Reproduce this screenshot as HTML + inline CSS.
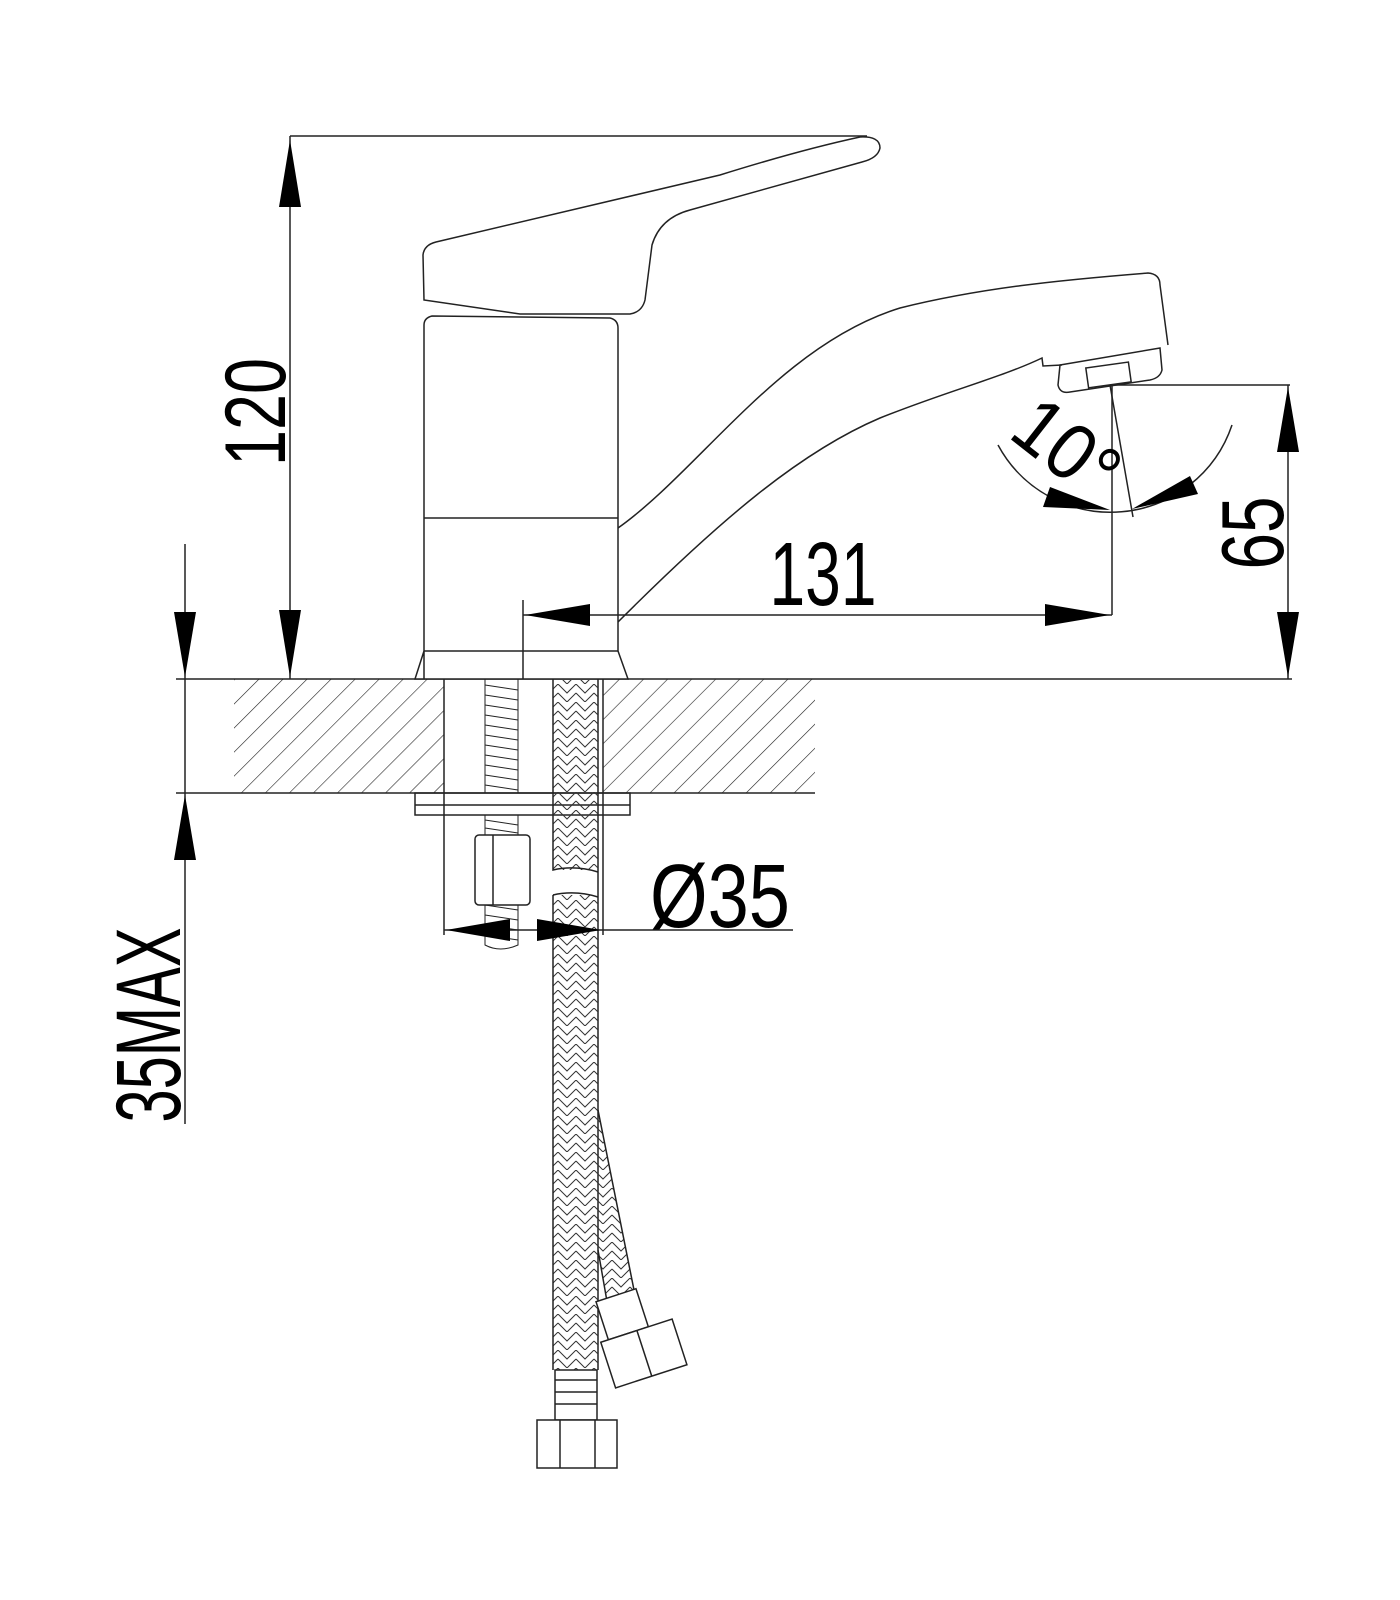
<!DOCTYPE html>
<html><head><meta charset="utf-8"><style>html,body{margin:0;padding:0;background:#fff}svg{display:block}</style></head>
<body>
<svg width="1400" height="1600" viewBox="0 0 1400 1600" xmlns="http://www.w3.org/2000/svg">
<defs>
<pattern id="hatch" patternUnits="userSpaceOnUse" width="17" height="17" patternTransform="rotate(45)">
<line x1="0" y1="0" x2="0" y2="17" stroke="#222" stroke-width="1.2"/>
</pattern>
<pattern id="braid" patternUnits="userSpaceOnUse" width="18" height="18">
<path d="M0,0 L9,9 L18,0 M0,9 L9,18 L18,9" fill="none" stroke="#333" stroke-width="1"/>
</pattern>
</defs>
<g fill="none" stroke="#222" stroke-width="1.5">
<rect x="234" y="679" width="210" height="114" fill="url(#hatch)" stroke="none"/>
<rect x="603" y="679" width="212" height="114" fill="url(#hatch)" stroke="none"/>
<line x1="176" y1="679" x2="1292" y2="679"/>
<line x1="176" y1="793" x2="815" y2="793"/>
<line x1="444" y1="679" x2="444" y2="935"/>
<line x1="603" y1="679" x2="603" y2="935"/>
<line x1="598" y1="679" x2="598" y2="1370"/>
<rect x="415" y="793" width="215" height="22"/>
<line x1="415" y1="805" x2="630" y2="805"/>
<path d="M424,679 L424,325 Q424,318 432,316 L610,318 Q618,320 618,328 L618,651 L628,679 L415,679 L424,651 Z" fill="#fff"/>
<line x1="424" y1="518" x2="618" y2="518"/>
<line x1="424" y1="651" x2="618" y2="651"/>
<line x1="290" y1="136" x2="867" y2="136"/>
<path d="M424,300 L423,255 Q424,245 436,242 L720,175 Q800,150 860,137 Q880,136 880,148 Q878,158 862,162 L690,210 Q660,218 652,245 L645,300 Q642,312 630,314 L520,314 Z" fill="#fff"/>
<path d="M618,528 C700,470 780,345 900,308 C980,288 1060,280 1148,273 Q1160,274 1160,285 L1168,345"/>
<path d="M618,622 C720,520 800,452 880,418 C950,390 1000,378 1042,358 L1043,366 L1062,365"/>
<path d="M1060,365 L1160,348 L1162,370 Q1160,378 1150,380 L1070,392 Q1060,394 1058,385 Z"/>
<rect x="1087" y="365" width="43" height="20" transform="rotate(-8 1108 375)"/>
<rect x="485" y="679" width="33" height="114" stroke-width="1"/>
<path d="M485,685 L518,690 M485,695 L518,700 M485,705 L518,710 M485,715 L518,720 M485,725 L518,730 M485,735 L518,740 M485,745 L518,750 M485,755 L518,760 M485,765 L518,770 M485,775 L518,780 M485,785 L518,790" stroke-width="1"/>
<path d="M485,815 L485,945 Q500,953 518,945 L518,815 M485,820 L518,825 M485,828 L518,833 M485,905 L518,910 M485,915 L518,920 M485,925 L518,930 M485,935 L518,940" stroke-width="1"/>
<rect x="475" y="835" width="55" height="70" rx="4" fill="#fff"/>
<line x1="493" y1="835" x2="493" y2="905"/>
<rect x="553" y="680" width="45" height="190" fill="url(#braid)" stroke="none"/>
<rect x="553" y="895" width="45" height="475" fill="url(#braid)" stroke="none"/>
<path d="M553,679 L553,870 Q575,865 598,872 M553,895 Q575,890 598,897 M553,895 L553,1370"/>
<path d="M598,1110 L640,1320 L612,1330 L598,1250" fill="url(#braid)"/>
<g transform="rotate(-18 640 1340)">
<rect x="610" y="1290" width="42" height="40" fill="#fff"/>
<rect x="602" y="1330" width="75" height="48" fill="#fff"/>
<line x1="640" y1="1330" x2="640" y2="1378"/>
</g>
<rect x="555" y="1370" width="42" height="50" fill="#fff"/>
<path d="M555,1380 L597,1380 M555,1392 L597,1392 M555,1404 L597,1404"/>
<rect x="537" y="1420" width="80" height="48" fill="#fff"/>
<line x1="560" y1="1420" x2="560" y2="1468"/><line x1="595" y1="1420" x2="595" y2="1468"/>
<line x1="290" y1="136" x2="290" y2="679"/>
<line x1="523" y1="600" x2="523" y2="679"/>
<line x1="523" y1="615" x2="1112" y2="615"/>
<line x1="1112" y1="385" x2="1112" y2="615"/>
<line x1="1110" y1="385" x2="1290" y2="385"/>
<line x1="1110" y1="385" x2="1133" y2="517"/>
<path d="M998,445 A128,128 0 0 0 1232,425"/>
<line x1="1288" y1="385" x2="1288" y2="679"/>
<line x1="185" y1="544" x2="185" y2="1124"/>
<line x1="444" y1="930" x2="793" y2="930"/>
</g>
<g fill="#000">
<polygon points="290,140 279,207 301,207"/>
<polygon points="290,677 279,610 301,610"/>
<polygon points="525,615 590,604 590,626"/>
<polygon points="1110,615 1045,604 1045,626"/>
<polygon points="1288,387 1277,452 1299,452"/>
<polygon points="1288,677 1277,612 1299,612"/>
<polygon points="185,677 174,612 196,612"/>
<polygon points="185,795 174,860 196,860"/>
<polygon points="446,930 510,919 510,941"/>
<polygon points="601,930 537,919 537,941"/>
<polygon points="1110,510 1050,487 1043,507"/>
<polygon points="1132,509 1190,476 1198,494"/>
</g>
<g font-family="'Liberation Sans Narrow','Liberation Sans',sans-serif" fill="#000">
<text transform="translate(285,412) rotate(-90)" font-size="86" text-anchor="middle" textLength="108" lengthAdjust="spacingAndGlyphs">120</text>
<text x="823" y="605" font-size="90" text-anchor="middle" textLength="107" lengthAdjust="spacingAndGlyphs">131</text>
<text transform="translate(1283,533) rotate(-90)" font-size="88" text-anchor="middle" textLength="73" lengthAdjust="spacingAndGlyphs">65</text>
<text transform="translate(180,1025) rotate(-90)" font-size="92" text-anchor="middle" textLength="195" lengthAdjust="spacingAndGlyphs">35MAX</text>
<text x="720" y="927" font-size="90" text-anchor="middle" textLength="140" lengthAdjust="spacingAndGlyphs">Ø35</text>
<text transform="translate(1050,470) rotate(38)" font-size="80" text-anchor="middle" textLength="110" lengthAdjust="spacingAndGlyphs">10°</text>
</g>
</svg>
</body></html>
